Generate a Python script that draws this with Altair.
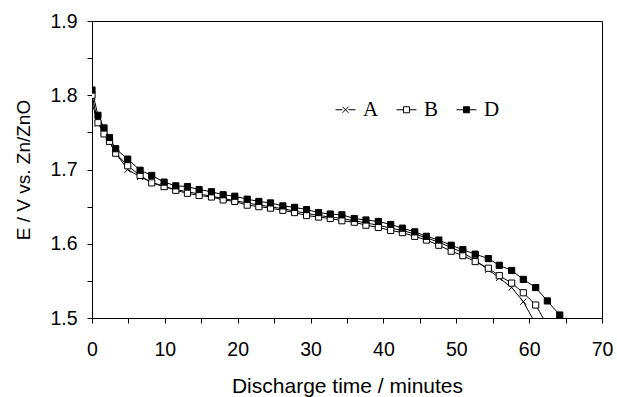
import altair as alt
import pandas as pd

# Discharge time (minutes)
time_min = [0, 0.82, 1.65, 2.4, 3.25, 4.9, 6.6, 8.2, 9.9, 11.5, 13.1, 14.7, 16.4, 18.0,
            19.6, 21.3, 22.9, 24.5, 26.2, 27.8, 29.45, 31.1, 32.7, 34.3, 36.0, 37.6,
            39.3, 41.0, 42.6, 44.3, 45.9, 47.6, 49.3, 50.9, 52.6, 54.4, 55.9, 57.6,
            59.2, 60.9, 62.5, 64.2]

e_A = [1.790, 1.762, 1.750, 1.737, 1.722, 1.700, 1.690, 1.683, 1.677, 1.673, 1.670,
       1.667, 1.664, 1.661, 1.658, 1.655, 1.652, 1.650, 1.647, 1.644, 1.641, 1.638,
       1.636, 1.634, 1.631, 1.628, 1.625, 1.621, 1.618, 1.613, 1.608, 1.602, 1.595,
       1.588, 1.578, 1.565, 1.554, 1.541, 1.522, 1.492, None, None]

e_B = [1.800, 1.763, 1.748, 1.738, 1.722, 1.705, 1.692, 1.682, 1.677, 1.672, 1.668,
       1.665, 1.663, 1.659, 1.657, 1.652, 1.650, 1.648, 1.645, 1.642, 1.638, 1.636,
       1.634, 1.631, 1.629, 1.625, 1.622, 1.618, 1.615, 1.610, 1.605, 1.598, 1.590,
       1.584, 1.576, 1.567, 1.557, 1.547, 1.534, 1.5175, 1.490, None]

e_D = [1.807, 1.773, 1.756, 1.743, 1.728, 1.714, 1.699, 1.692, 1.683, 1.678, 1.677,
       1.673, 1.670, 1.666, 1.664, 1.660, 1.657, 1.655, 1.651, 1.649, 1.646, 1.642,
       1.640, 1.639, 1.634, 1.632, 1.630, 1.626, 1.621, 1.616, 1.610, 1.605, 1.598,
       1.592, 1.586, 1.580, 1.571, 1.564, 1.552, 1.541, 1.523, 1.504]

series = ["A", "B", "D"]
values = {"A": e_A, "B": e_B, "D": e_D}

rows = []
for s in series:
    for t, e in zip(time_min, values[s]):
        if e is not None:
            rows.append({"t": t, "E": e, "s": s})
df = pd.DataFrame(rows)

x_path = "M-1,-1L1,1M-1,1L1,-1"
leg_A = "M-1,0H-0.3M0.3,0H1M-0.3,-0.3L0.3,0.3M-0.3,0.3L0.3,-0.3"
leg_sq = "M-1,0H-0.3M0.3,0H1M-0.3,-0.3H0.3V0.3H-0.3Z"

x_enc = alt.X("t:Q", title="Discharge time / minutes",
              scale=alt.Scale(domain=[0, 70], nice=False),
              axis=alt.Axis(values=list(range(0, 75, 5)),
                            labelExpr="datum.value % 10 === 0 ? datum.label : ''",
                            labelPadding=17, titlePadding=17, titleFontSize=21,
                            labelFlush=False, labelOverlap=False))
y_enc = alt.Y("E:Q", title="E / V vs. Zn/ZnO",
              scale=alt.Scale(domain=[1.5, 1.9], nice=False, zero=False),
              axis=alt.Axis(values=[1.5, 1.55, 1.6, 1.65, 1.7, 1.75, 1.8, 1.85, 1.9],
                            format=".1f",
                            labelExpr="round(datum.value * 100) % 10 === 0 ? datum.label : ''",
                            labelPadding=10, titlePadding=16, titleFontSize=19,
                            labelFlush=False, labelOverlap=False))

base = alt.Chart(df)

lines = base.mark_line(color="black", strokeWidth=1, clip=True).encode(
    x=x_enc, y=y_enc, detail="s:N")

points = base.mark_point(stroke="black", strokeWidth=1, opacity=1, size=38, clip=True).encode(
    x=x_enc, y=y_enc,
    shape=alt.Shape("s:N", scale=alt.Scale(domain=series, range=[x_path, "square", "square"]),
                    legend=None),
    fill=alt.Fill("s:N", scale=alt.Scale(domain=series, range=["transparent", "white", "black"]),
                  legend=None),
)

leg_props = dict(orient="none", legendX=243, legendY=78, direction="horizontal", title=None,
                 labelFont="Liberation Serif", labelFontSize=21, labelColor="black",
                 symbolSize=400, symbolStrokeWidth=1,
                 labelOffset=7, columnPadding=15)

legend_layer = base.transform_filter("false").mark_point(
    strokeWidth=1, opacity=1).encode(
    x=x_enc, y=y_enc,
    shape=alt.Shape("s:N", scale=alt.Scale(domain=series, range=[leg_A, leg_sq, leg_sq]),
                    legend=alt.Legend(**leg_props)),
    fill=alt.Fill("s:N", scale=alt.Scale(domain=series, range=["transparent", "white", "black"]),
                  legend=alt.Legend(**leg_props)),
    stroke=alt.Stroke("s:N", scale=alt.Scale(domain=series, range=["black", "black", "black"]),
                      legend=alt.Legend(**leg_props)),
)

chart = alt.layer(lines, points, legend_layer).resolve_scale(
    shape="independent", fill="independent", stroke="independent"
).properties(
    width=510, height=297,
    autosize=alt.AutoSizeParams(type="none"),
    padding={"left": 92, "top": 21, "right": 15, "bottom": 79},
    background="white",
).configure_view(
    stroke="black", strokeWidth=1
).configure_axis(
    domainColor="black", tickColor="black", domainWidth=1, tickWidth=1, tickSize=5,
    grid=False, labelFont="Liberation Sans", labelFontSize=19.5, labelColor="black",
    titleFont="Liberation Sans", titleFontWeight="normal", titleColor="black",
)

chart.save("out.html", embed_options={"renderer": "svg", "actions": False})
